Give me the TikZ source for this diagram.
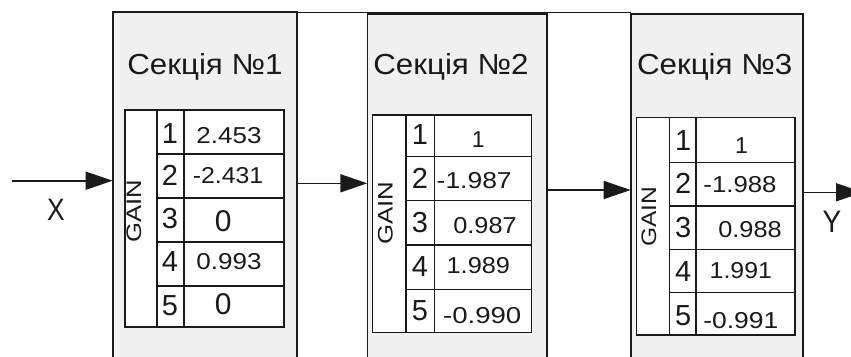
\documentclass[tikz,border=0pt]{standalone}
\usepackage{fontspec}
\usepackage{graphicx}
\setmainfont{Liberation Sans}
\usetikzlibrary{arrows.meta}
\definecolor{boxgray}{HTML}{F0F0F0}
\definecolor{ink}{HTML}{1A1A1A}
\newcommand\fsz[1]{\fontsize{#1}{#1}\selectfont}
\begin{document}
\begin{tikzpicture}[x=1pt,y=-1pt,
  secbox/.style={draw=ink, line width=1.6pt, fill=boxgray, anchor=north west, inner sep=0pt, outer sep=0pt, minimum height=420pt},
  tabline/.style={draw=ink, line width=1.2pt},
  conn/.style={draw=ink, line width=1.6pt, -{Triangle[length=27pt,width=18pt]}},
  txt/.style={inner sep=0pt, anchor=base, text=ink},
  gain/.style={inner sep=0pt, anchor=center, rotate=90, text=ink},
]
\useasboundingbox (0,0) rectangle (851,356);
\clip (0,0) rectangle (851,356);

% connecting top line
\coordinate (top) at (0,12.5);

% section boxes
\node[secbox, minimum width=184pt] (s1) at (112.7,11.7) {};
\node[secbox, minimum width=179.4pt] (s2) at (367.3,14) {};
\node[secbox, minimum width=172pt] (s3) at (630.7,14) {};
\draw[ink, line width=1pt] (top -| s1.east) -- (top -| s3.west);

% titles
\node[txt] (h1) at (205,74) {\fsz{29}\scalebox{1.08}[1]{Секція №1}};
\node[txt] (h2) at (451,74) {\fsz{29}\scalebox{1.08}[1]{Секція №2}};
\node[txt] (h3) at (714.7,74) {\fsz{29}\scalebox{1.08}[1]{Секція №3}};

% table 1
\filldraw[tabline, fill=white] (125,110) rectangle (284,327);
\draw[tabline] (157,110) -- (157,327) (184,110) -- (184,327);
\draw[tabline] (157,154) -- (284,154) (157,198) -- (284,198) (157,242) -- (284,242) (157,286) -- (284,286);
% table 2
\filldraw[tabline, fill=white] (372.7,115) rectangle (531.3,332.3);
\draw[tabline] (406,115) -- (406,332.3) (434.3,115) -- (434.3,332.3);
\draw[tabline] (406,156.7) -- (531.3,156.7) (406,200.7) -- (531.3,200.7) (406,245) -- (531.3,245) (406,289.3) -- (531.3,289.3);
% table 3
\filldraw[tabline, fill=white] (636.7,117.3) rectangle (795,335);
\draw[tabline] (669.3,117.3) -- (669.3,335) (696,117.3) -- (696,335);
\draw[tabline] (669.3,162.7) -- (795,162.7) (669.3,206) -- (795,206) (669.3,249.3) -- (795,249.3) (669.3,292.3) -- (795,292.3);

% GAIN labels
\node[gain] (g1) at (134,211.5) {\fsz{21}\scalebox{1.22}[1]{GAIN}};
\node[gain] (g2) at (385.3,213.3) {\fsz{21}\scalebox{1.23}[1]{GAIN}};
\node[gain] (g3) at (648.8,216.7) {\fsz{21}\scalebox{1.17}[1]{GAIN}};

% row numbers
\foreach \n/\b in {1/143,2/185,3/228.3,4/271.7,5/315}
  \node[txt] (na\n) at (170,\b) {\fsz{29}\n};
\foreach \n/\b in {1/144,2/188.3,3/232.3,4/276.7,5/320}
  \node[txt] (nb\n) at (420,\b) {\fsz{29}\n};
\foreach \n/\b in {1/150,2/193.3,3/237.3,4/281.7,5/325}
  \node[txt] (nc\n) at (683.3,\b) {\fsz{29}\n};

% values section 1
\node[txt] (va1) at (229,143.3) {\fsz{23}\scalebox{1.13}[1]{2.453}};
\node[txt] (va2) at (228,183.3) {\fsz{23}\scalebox{1.08}[1]{-2.431}};
\node[txt] (va3) at (223.3,231.7) {\fsz{30}0};
\node[txt] (va4) at (229,269.3) {\fsz{23}\scalebox{1.13}[1]{0.993}};
\node[txt] (va5) at (223.3,314) {\fsz{30}0};
% values section 2
\node[txt] (vb1) at (478.3,147) {\fsz{23}1};
\node[txt] (vb2) at (474.2,188.3) {\fsz{23}\scalebox{1.15}[1]{-1.987}};
\node[txt] (vb3) at (485,233.3) {\fsz{23}\scalebox{1.1}[1]{0.987}};
\node[txt] (vb4) at (478.3,273.3) {\fsz{23}\scalebox{1.1}[1]{1.989}};
\node[txt] (vb5) at (482.2,323.3) {\fsz{23}\scalebox{1.2}[1]{-0.990}};
% values section 3
\node[txt] (vc1) at (741.5,153.3) {\fsz{23}1};
\node[txt] (vc2) at (740,192.7) {\fsz{23}\scalebox{1.12}[1]{-1.988}};
\node[txt] (vc3) at (750,237.3) {\fsz{23}\scalebox{1.1}[1]{0.988}};
\node[txt] (vc4) at (740.8,278.3) {\fsz{23}\scalebox{1.08}[1]{1.991}};
\node[txt] (vc5) at (740.8,328.3) {\fsz{23}\scalebox{1.15}[1]{-0.991}};

% connectors
\coordinate (xin) at (11.7,180.7);
\draw[conn] (xin) -- (xin -| s1.west);
\coordinate (c12) at (0,183.3);
\draw[conn] (c12 -| s1.east) -- (c12 -| s2.west);
\coordinate (c23) at (0,190);
\draw[conn] (c23 -| s2.east) -- (c23 -| s3.west);
\coordinate (yout) at (863,192.3);
\draw[conn] (yout -| s3.east) -- (yout);

% labels
\node[txt] (lx) at (56,220) {\fsz{31}\scalebox{0.85}[1]{X}};
\node[txt] (ly) at (832,232) {\fsz{31}\scalebox{0.9}[1]{Y}};
\end{tikzpicture}
\end{document}
